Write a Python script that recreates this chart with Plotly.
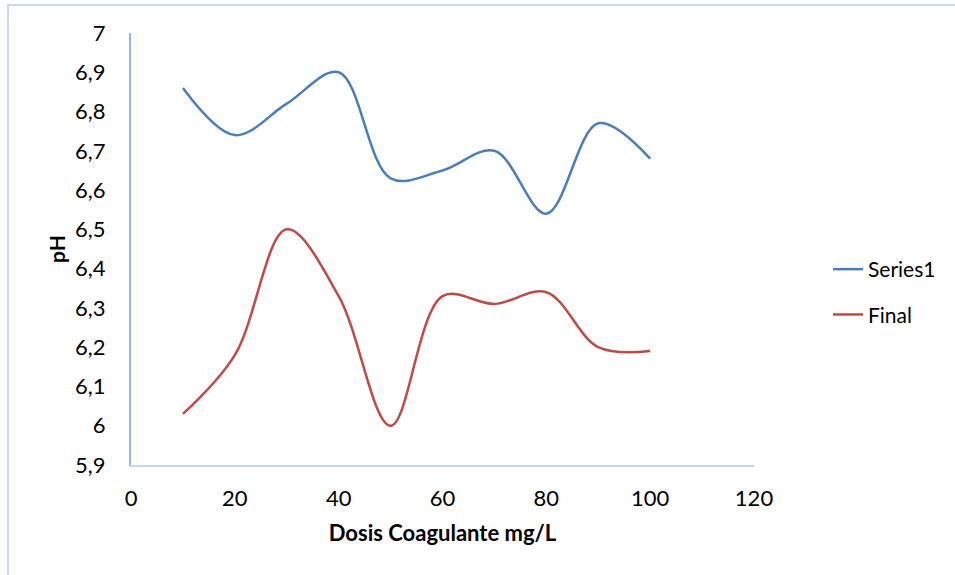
import plotly.graph_objects as go

dosis = [10, 20, 30, 40, 50, 60, 70, 80, 90, 100]
series1 = [6.86, 6.74, 6.82, 6.90, 6.63, 6.65, 6.70, 6.54, 6.77, 6.68]
final = [6.03, 6.18, 6.50, 6.33, 6.00, 6.33, 6.31, 6.34, 6.20, 6.19]
x_ticks = [0, 20, 40, 60, 80, 100, 120]
y_ticks = [5.9, 6.0, 6.1, 6.2, 6.3, 6.4, 6.5, 6.6, 6.7, 6.8, 6.9, 7.0]
y_tick_text = ["5,9", "6", "6,1", "6,2", "6,3", "6,4", "6,5", "6,6", "6,7", "6,8", "6,9", "7"]

FONT = "Lato, 'Open Sans', sans-serif"

fig = go.Figure()
fig.add_trace(go.Scatter(x=dosis, y=series1, name="Series1", mode="lines",
                         line=dict(color="#4a7ebb", width=2.5, shape="spline", smoothing=1.0),
                         legendgroup="a"))
fig.add_trace(go.Scatter(x=dosis, y=final, name="Final", mode="lines",
                         line=dict(color="#be4b48", width=2.5, shape="spline", smoothing=1.0),
                         legendgroup="b"))

W, H = 955, 575
L, R, T, B = 131, 201, 33, 110
pw, ph = W - L - R, H - T - B


def px(xp):
    return (xp - L) / pw


def py(yp):
    return (H - B - yp) / ph


fig.update_layout(
    width=W, height=H,
    margin=dict(l=L, r=R, t=T, b=B),
    paper_bgcolor="white", plot_bgcolor="white",
    font=dict(family=FONT, size=22, color="#000000"),
    showlegend=True,
    legend=dict(x=px(828), y=py(249), xanchor="left", yanchor="top",
                font=dict(size=21), tracegroupgap=15, bgcolor="rgba(0,0,0,0)"),
    xaxis=dict(range=[0, 120], tickvals=x_ticks, ticktext=[str(v) for v in x_ticks],
               showgrid=False, zeroline=False, showline=True, linecolor="#c3d5ec", linewidth=2,
               ticks="", ticklabelstandoff=13, tickfont=dict(size=22),
               title=dict(text="<b>Dosis Coagulante mg/L</b>", font=dict(size=22), standoff=15)),
    yaxis=dict(range=[5.9, 7.0], tickvals=y_ticks, ticktext=y_tick_text,
               showgrid=False, zeroline=False, showline=True, linecolor="#95b6e0", linewidth=2,
               ticks="", ticklabelstandoff=19, tickfont=dict(size=22),
               title=dict(text="<b>pH</b>", font=dict(size=21), standoff=4)),
    shapes=[dict(type="rect", xref="paper", yref="paper",
                 x0=px(8), x1=px(980), y0=py(600), y1=py(5),
                 line=dict(color="#c9d9ef", width=2), fillcolor="rgba(0,0,0,0)", layer="below")],
)

fig.write_html("out.html")
